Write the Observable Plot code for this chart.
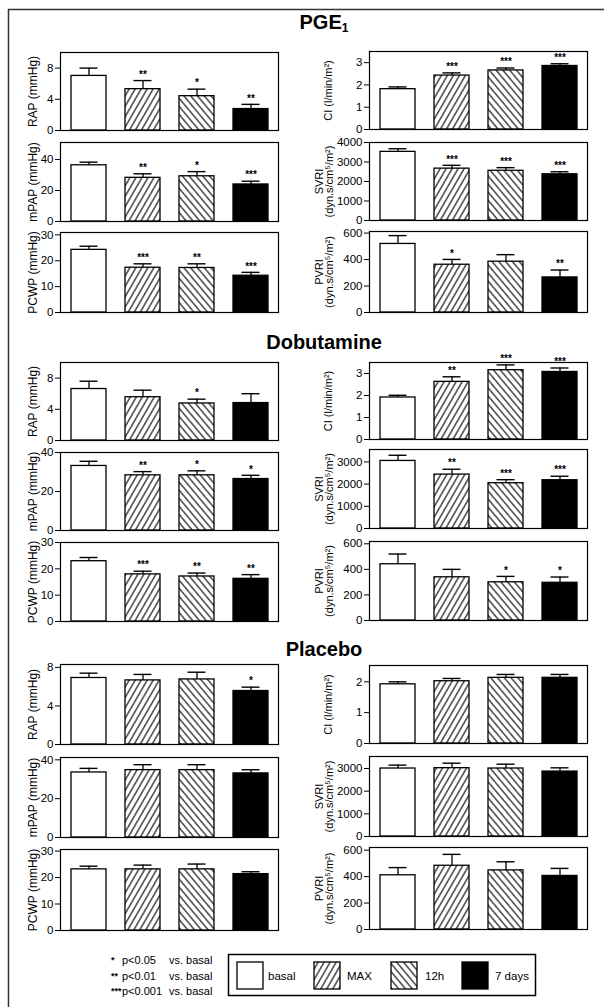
<!DOCTYPE html>
<html><head><meta charset="utf-8">
<script src="https://cdn.jsdelivr.net/npm/d3@7"></script>
<script src="https://cdn.jsdelivr.net/npm/@observablehq/plot@0.6"></script>
<style>
body{margin:0;background:white;}
#page{position:relative;width:604px;height:1007px;overflow:hidden;background:white;font-family:"Liberation Sans",Arial,Helvetica,sans-serif;}
.panel{position:absolute;}
.title{position:absolute;left:224px;width:200px;text-align:center;font-weight:bold;font-size:20px;line-height:20px;color:#000;white-space:nowrap;}
.title sub{font-size:12px;vertical-align:-3px;line-height:0;}
</style></head><body><div id="page"></div><script>
// ---------- data ----------
const conditions = ["basal", "MAX", "12h", "7 days"];
const groupTitles = ["PGE<sub>1</sub>", "Dobutamine", "Placebo"];

// PGE1
const pgeRAP = [7.0, 5.3, 4.4, 2.75];   const pgeRAPse = [1.0, 1.1, 0.9, 0.6];   const pgeRAPsig = ["", "**", "*", "**"];
const pgemPAP = [36.3, 28.2, 29.2, 23.9]; const pgemPAPse = [2.0, 2.6, 3.0, 2.1]; const pgemPAPsig = ["", "**", "*", "***"];
const pgePCWP = [24.2, 17.3, 17.2, 14.2]; const pgePCWPse = [1.4, 1.5, 1.6, 1.3]; const pgePCWPsig = ["", "***", "**", "***"];
const pgeCI = [1.81, 2.42, 2.65, 2.85];   const pgeCIse = [0.10, 0.12, 0.11, 0.10]; const pgeCIsig = ["", "***", "***", "***"];
const pgeSVRI = [3520, 2660, 2550, 2370]; const pgeSVRIse = [160, 170, 160, 130]; const pgeSVRIsig = ["", "***", "***", "***"];
const pgePVRI = [518, 361, 384, 265];     const pgePVRIse = [63, 40, 53, 56];     const pgePVRIsig = ["", "*", "", "**"];
// Dobutamine
const dobRAP = [6.6, 5.55, 4.75, 4.8];    const dobRAPse = [1.0, 0.9, 0.55, 1.2];  const dobRAPsig = ["", "", "*", ""];
const dobmPAP = [33.1, 28.3, 28.3, 26.4]; const dobmPAPse = [2.4, 1.9, 2.3, 1.9]; const dobmPAPsig = ["", "**", "*", "*"];
const dobPCWP = [22.9, 17.9, 17.1, 16.2]; const dobPCWPse = [1.4, 1.2, 1.3, 1.6]; const dobPCWPsig = ["", "***", "**", "**"];
const dobCI = [1.91, 2.62, 3.15, 3.07];   const dobCIse = [0.10, 0.23, 0.24, 0.18]; const dobCIsig = ["", "**", "***", "***"];
const dobSVRI = [3045, 2430, 2040, 2175]; const dobSVRIse = [255, 240, 160, 180]; const dobSVRIsig = ["", "**", "***", "***"];
const dobPVRI = [440, 338, 299, 295];     const dobPVRIse = [80, 62, 46, 45];     const dobPVRIsig = ["", "", "*", "*"];
// Placebo
const plaRAP = [6.9, 6.65, 6.75, 5.55];   const plaRAPse = [0.5, 0.62, 0.75, 0.4]; const plaRAPsig = ["", "", "", "*"];
const plamPAP = [33.5, 34.7, 34.7, 33.0]; const plamPAPse = [2.1, 2.8, 2.8, 1.9]; const plamPAPsig = ["", "", "", ""];
const plaPCWP = [23.1, 23.1, 23.1, 21.3]; const plaPCWPse = [1.2, 1.6, 2.0, 0.9]; const plaPCWPsig = ["", "", "", ""];
const plaCI = [1.92, 2.02, 2.13, 2.13];   const plaCIse = [0.08, 0.09, 0.11, 0.11]; const plaCIsig = ["", "", "", ""];
const plaSVRI = [3000, 3015, 3000, 2865]; const plaSVRIse = [150, 220, 190, 165]; const plaSVRIsig = ["", "", "", ""];
const plaPVRI = [410, 482, 447, 405];     const plaPVRIse = [58, 86, 65, 57];     const plaPVRIsig = ["", "", "", ""];

// axis labels and ticks
const labelRAP = "RAP (mmHg)", labelmPAP = "mPAP (mmHg)", labelPCWP = "PCWP (mmHg)";
const labelCI = "CI (l/min/m²)", labelSVRI = "SVRI\n(dyn.s/cm⁵/m²)", labelPVRI = "PVRI\n(dyn.s/cm⁵/m²)";
const ticksRAP = [0, 4, 8], ticksmPAP = [0, 20, 40], ticksPCWP = [0, 10, 20, 30];
const ticksCI3 = [0, 1, 2, 3], ticksCI2 = [0, 1, 2];
const ticksSVRI4 = [0, 1000, 2000, 3000, 4000], ticksSVRI3 = [0, 1000, 2000, 3000];
const ticksPVRI = [0, 200, 400, 600];
const legendLabels = ["basal", "MAX", "12h", "7 days"];
const noteStars = ["*", "**", "***"];
const notePvals = ["p<0.05", "p<0.01", "p<0.001"];
const noteVs = "vs. basal";

// ---------- panel specs (layout: group g, column c, frame top/height) ----------
const panels = [
  {g:0,c:0,top:52, h:78,label:labelRAP, mean:pgeRAP, se:pgeRAPse, sig:pgeRAPsig, dom:[0,10], ticks:ticksRAP},
  {g:0,c:0,top:142,h:79,label:labelmPAP,mean:pgemPAP,se:pgemPAPse,sig:pgemPAPsig,dom:[0,51], ticks:ticksmPAP},
  {g:0,c:0,top:232,h:80,label:labelPCWP,mean:pgePCWP,se:pgePCWPse,sig:pgePCWPsig,dom:[0,30.9],ticks:ticksPCWP},
  {g:0,c:1,top:51, h:78,label:labelCI,  mean:pgeCI,  se:pgeCIse,  sig:pgeCIsig,  dom:[0,3.5], ticks:ticksCI3},
  {g:0,c:1,top:142,h:78,label:labelSVRI,mean:pgeSVRI,se:pgeSVRIse,sig:pgeSVRIsig,dom:[0,4000],ticks:ticksSVRI4},
  {g:0,c:1,top:231,h:81,label:labelPVRI,mean:pgePVRI,se:pgePVRIse,sig:pgePVRIsig,dom:[0,612], ticks:ticksPVRI},

  {g:1,c:0,top:362,h:78,label:labelRAP, mean:dobRAP, se:dobRAPse, sig:dobRAPsig, dom:[0,10], ticks:ticksRAP},
  {g:1,c:0,top:452,h:78,label:labelmPAP,mean:dobmPAP,se:dobmPAPse,sig:dobmPAPsig,dom:[0,40], ticks:ticksmPAP},
  {g:1,c:0,top:542,h:79,label:labelPCWP,mean:dobPCWP,se:dobPCWPse,sig:dobPCWPsig,dom:[0,30], ticks:ticksPCWP},
  {g:1,c:1,top:362,h:77,label:labelCI,  mean:dobCI,  se:dobCIse,  sig:dobCIsig,  dom:[0,3.5], ticks:ticksCI3},
  {g:1,c:1,top:449,h:79,label:labelSVRI,mean:dobSVRI,se:dobSVRIse,sig:dobSVRIsig,dom:[0,3560],ticks:ticksSVRI3},
  {g:1,c:1,top:541,h:79,label:labelPVRI,mean:dobPVRI,se:dobPVRIse,sig:dobPVRIsig,dom:[0,618], ticks:ticksPVRI},

  {g:2,c:0,top:664,h:80,label:labelRAP, mean:plaRAP, se:plaRAPse, sig:plaRAPsig, dom:[0,8.3], ticks:ticksRAP},
  {g:2,c:0,top:757,h:80,label:labelmPAP,mean:plamPAP,se:plamPAPse,sig:plamPAPsig,dom:[0,41.2],ticks:ticksmPAP},
  {g:2,c:0,top:849,h:81,label:labelPCWP,mean:plaPCWP,se:plaPCWPse,sig:plaPCWPsig,dom:[0,30.6],ticks:ticksPCWP},
  {g:2,c:1,top:665,h:78,label:labelCI,  mean:plaCI,  se:plaCIse,  sig:plaCIsig,  dom:[0,2.53],ticks:ticksCI2},
  {g:2,c:1,top:756,h:80,label:labelSVRI,mean:plaSVRI,se:plaSVRIse,sig:plaSVRIsig,dom:[0,3530],ticks:ticksSVRI3},
  {g:2,c:1,top:847,h:82,label:labelPVRI,mean:plaPVRI,se:plaPVRIse,sig:plaPVRIsig,dom:[0,620], ticks:ticksPVRI}
];

const FONT = '"Liberation Sans", Arial, Helvetica, sans-serif';
const page = document.getElementById("page");

function addHatch(defs, id, angle, s) {
  const p = defs.append("pattern").attr("id", id).attr("patternUnits", "userSpaceOnUse")
    .attr("width", s).attr("height", s).attr("patternTransform", `rotate(${angle})`);
  p.append("rect").attr("width", s).attr("height", s).attr("fill", "white");
  p.append("line").attr("x1", s / 2).attr("x2", s / 2).attr("y1", -1).attr("y2", s + 1)
    .attr("stroke", "black").attr("stroke-width", 1.1);
}
function defsMark(pid) {
  return () => {
    const d = d3.create("svg:defs");
    addHatch(d, pid + "-a", 30, 5.2);
    addHatch(d, pid + "-b", -40, 5.2);
    return d.node();
  };
}

// ---------- background: outer frame, notes, legend ----------
const bg = d3.create("svg").attr("width", 604).attr("height", 1007)
  .style("position", "absolute").style("left", 0).style("top", 0)
  .style("font-family", FONT);
const bdefs = bg.append("defs");
addHatch(bdefs, "lg-a", 30, 5.2);
addHatch(bdefs, "lg-b", -40, 5.2);
bg.append("line").attr("x1", 8).attr("x2", 604).attr("y1", 9.5).attr("y2", 9.5).attr("stroke", "#333").attr("stroke-width", 1.5);
bg.append("line").attr("x1", 8.5).attr("x2", 8.5).attr("y1", 9).attr("y2", 1007).attr("stroke", "#333").attr("stroke-width", 1.5);

const noteY = [960, 975.5, 991];
noteStars.forEach((s, i) => {
  bg.append("text").attr("x", 111).attr("y", noteY[i]).attr("dominant-baseline", "central")
    .attr("font-size", 9).attr("font-weight", "bold").text(s);
  bg.append("text").attr("x", 122).attr("y", noteY[i]).attr("dominant-baseline", "central")
    .attr("font-size", 11).text(notePvals[i]);
  bg.append("text").attr("x", 169).attr("y", noteY[i]).attr("dominant-baseline", "central")
    .attr("font-size", 11).text(noteVs);
});

bg.append("rect").attr("x", 228.5).attr("y", 954.5).attr("width", 307).attr("height", 41)
  .attr("fill", "none").attr("stroke", "black").attr("stroke-width", 1.5);
const swX = [237, 314, 391, 462], lbX = [268, 347, 425, 495];
const swFill = ["white", "url(#lg-a)", "url(#lg-b)", "black"];
legendLabels.forEach((l, i) => {
  bg.append("rect").attr("x", swX[i]).attr("y", 962).attr("width", 26).attr("height", 27)
    .attr("fill", swFill[i]).attr("stroke", "black").attr("stroke-width", 1.3);
  bg.append("text").attr("x", lbX[i]).attr("y", 975.5).attr("dominant-baseline", "central")
    .attr("font-size", 11.5).text(l);
});
page.appendChild(bg.node());

// ---------- titles ----------
const titleTop = [12, 332, 639];
groupTitles.forEach((t, i) => {
  const d = document.createElement("div");
  d.className = "title";
  d.style.top = titleTop[i] + "px";
  d.innerHTML = t;
  page.appendChild(d);
});

// ---------- panels ----------
panels.forEach((sp, idx) => {
  const pid = "pn" + idx;
  const data = conditions.map((c, i) => ({cond: c, value: sp.mean[i], hi: sp.mean[i] + sp.se[i], sig: sp.sig[i]}));
  const fills = {"basal": "white", "MAX": `url(#${pid}-a)`, "12h": `url(#${pid}-b)`, "7 days": "black"};
  const ml = sp.c === 0 ? 52 : 62;
  const mt = 8, mb = 8, fw = 218;
  const frameLeft = sp.c === 0 ? 60 : 369;
  const twoLine = sp.label.includes("\n");
  const labelDx = sp.c === 0 ? -27 : (twoLine ? -44.5 : -40);
  const chart = Plot.plot({
    width: ml + fw + 4,
    height: sp.h + mt + mb,
    marginLeft: ml, marginRight: 4, marginTop: mt, marginBottom: mb,
    style: {background: "transparent", overflow: "visible", fontFamily: FONT, fontSize: "11.5px", color: "black"},
    x: {domain: conditions, paddingInner: 0.36, paddingOuter: 0.18, axis: null},
    y: {domain: sp.dom},
    color: {type: "identity"},
    marks: [
      defsMark(pid),
      Plot.barY(data, {x: "cond", y: "value", fill: d => fills[d.cond], stroke: "black", strokeWidth: 1.3}),
      Plot.ruleX(data, {x: "cond", y1: "value", y2: "hi", stroke: "black", strokeWidth: 1.3}),
      Plot.tickY(data, {x: "cond", y: "hi", insetLeft: 8.5, insetRight: 8.5, stroke: "black", strokeWidth: 1.4}),
      Plot.text(data.filter(d => d.sig), {x: "cond", y: "hi", text: "sig", dy: -6, fontSize: 10, fontWeight: "bold", lineAnchor: "middle"}),
      Plot.frame({stroke: "black", strokeWidth: 1.2}),
      Plot.axisY({ticks: sp.ticks, tickSize: 5, tickPadding: 2, tickFormat: d => String(d), label: null, fontSize: 11.5}),
      Plot.text([sp.label], {frameAnchor: "left", text: d => d, rotate: -90, dx: labelDx,
        textAnchor: "middle", lineAnchor: "middle", lineHeight: 0.84,
        fontSize: sp.c === 0 ? 12 : 11})
    ]
  });
  chart.classList.add("panel");
  chart.style.left = (frameLeft - ml) + "px";
  chart.style.top = (sp.top - mt) + "px";
  page.appendChild(chart);
});
</script></body></html>
